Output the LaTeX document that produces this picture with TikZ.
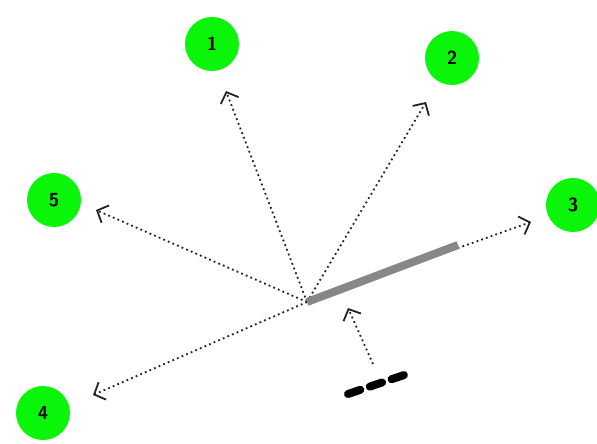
\documentclass[tikz,border=0pt]{standalone}
\usepackage{tikz}
\usetikzlibrary{arrows.meta, positioning}
\usepackage{xcolor}
\definecolor{ballgreen}{RGB}{10,245,10}
\definecolor{bargray}{RGB}{135,135,135}
\definecolor{dotgray}{RGB}{35,35,35}

\begin{document}
\begin{tikzpicture}[x=1bp, y=-1bp,
  ball/.style={circle, fill=ballgreen, minimum size=54bp, inner sep=0pt,
    font=\sffamily\bfseries\fontsize{19}{19}\selectfont},
  dirarrow/.style={dotgray, line width=1.8bp, dash pattern=on 1.8bp off 3.2bp,
    -{Straight Barb[length=9bp, width=19bp, line width=1.8bp]}}]
  \useasboundingbox (0,0) rectangle (597,444);
  % balls
  \node[ball] (n1) at (212,44) {1};
  \node[ball] (n2) at (452,58) {2};
  \node[ball] (n3) at (573,205) {3};
  \node[ball] (n4) at (43,413) {4};
  \node[ball] (n5) at (54,200) {5};
  % directions
  \coordinate (o) at (307,302);
  \coordinate (t1) at (226,91);
  \coordinate (t2) at (426,102);
  \coordinate (t3) at (531,222);
  \coordinate (t4) at (93,395);
  \coordinate (t5) at (96,210);
  \foreach \t in {t1,t2,t3,t4,t5}
    \draw[dirarrow] (o) -- (\t);
  % current heading
  \draw[bargray, line width=8bp] (o) -- (458,245);
  % agent
  \coordinate (tail) at (373,364);
  \coordinate (head) at (348,308);
  \draw[dirarrow] (tail) -- (head);
  \draw[black, line width=8bp, line cap=round, dash pattern=on 13bp off 10bp] (348,394) -- (410,373);
\end{tikzpicture}
\end{document}
